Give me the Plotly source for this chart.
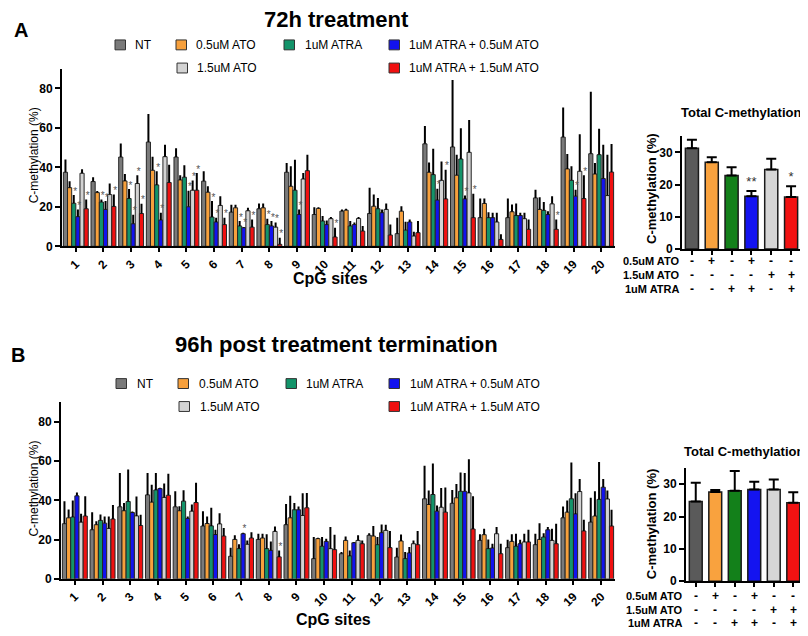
import plotly.graph_objects as go

# The page body has an 8px margin, so the figure is drawn at (8, 8) in the window.
W, H = 800, 628
OFF = 8
FONT = "Liberation Sans, Arial, sans-serif"


def X(px):
    return (px - OFF) / W


def Y(py):
    return 1 - (py - OFF) / H


treatments = ["NT", "0.5uM ATO", "1uM ATRA", "1uM ATRA + 0.5uM ATO",
              "1.5uM ATO", "1uM ATRA + 1.5uM ATO"]
sites = [str(i) for i in range(1, 21)]

# ---------------- Panel A (72h treatment): means and error-bar tops ----------------
a_nt = [37.5, 32.8, 45.2, 52.8, 45.2, 33.0, 17.3, 19.0, 37.5, 16.1, 17.8, 16.6, 6.4, 51.9, 50.3, 14.5, 14.5, 24.5, 55.3, 46.9]
a_nt_up = [44, 35, 52.1, 67, 49.7, 38, 21, 21.7, 42.2, 19.8, 18.7, 29.6, 14.5, 61, 84.2, 24.2, 24.2, 28.7, 70.3, 78.3]
a_ato05 = [29.7, 27.2, 33.1, 38.5, 33.6, 27.4, 19.5, 19.5, 30.4, 19.2, 18.3, 20.3, 17.8, 37.5, 36.0, 21.7, 17.5, 18.7, 39.2, 36.6]
a_ato05_up = [33, 28, 36.6, 45.4, 36, 30.4, 21, 21.7, 40.5, 19.8, 19, 26.2, 20.3, 42.5, 46.4, 24.2, 21.2, 24.9, 46.7, 42.2]
a_atra = [21.8, 22.4, 24.2, 31.1, 35.0, 14.8, 10.3, 11.0, 28.4, 12.8, 10.3, 19.0, 8.2, 36.3, 44.2, 14.5, 15.6, 18.2, 33.4, 46.4]
a_atra_up = [26, 23.7, 29, 38, 41, 22.9, 12.8, 14, 43.9, 15.3, 12.8, 24.5, 12.4, 49.4, 59.8, 17.3, 21.7, 22.5, 40.5, 59.5]
a_combo05 = [15.0, 18.7, 11.4, 13.3, 20.0, 12.3, 9.4, 10.3, 16.1, 11.0, 11.0, 17.0, 12.3, 23.4, 24.0, 14.5, 15.6, 16.1, 25.4, 34.3]
a_combo05_up = [18.7, 22.9, 16, 17, 28.2, 14.5, 9.8, 12.8, 18.7, 13.1, 12, 18.7, 13.6, 29.1, 25.7, 17, 17, 17.8, 28.7, 51.4]
a_ato15 = [37.0, 26.2, 31.8, 45.4, 28.4, 20.7, 18.0, 9.7, 34.1, 14.0, 14.1, 18.7, 5.2, 33.4, 47.6, 12.3, 14.0, 21.5, 38.0, 25.7]
a_ato15_up = [39, 31.8, 36, 51.4, 33.3, 25.4, 19.5, 12, 37.1, 14.8, 14.8, 21.7, 7.4, 43, 64, 17, 17, 25.4, 56.8, 46.4]
a_combo15 = [19.0, 20.2, 16.6, 32.3, 28.4, 11.0, 9.7, 1.0, 38.3, 4.7, 7.7, 5.7, 6.9, 24.0, 14.5, 3.5, 8.6, 8.6, 24.2, 37.6]
a_combo15_up = [23.7, 26.2, 21.5, 41.3, 37.1, 14.5, 13.6, 4.4, 46.4, 9.4, 10.3, 11.1, 12.8, 38.8, 26.6, 6.1, 13.6, 13.6, 36, 51.8]
# significance stars: (CpG site, treatment index)
a_stars = [(1, 2), (1, 3), (1, 5), (2, 2), (2, 3), (2, 5), (3, 2), (3, 3), (3, 4), (3, 5),
           (4, 2), (4, 3), (5, 3), (5, 4), (5, 5), (6, 2), (6, 3), (6, 5), (7, 2), (7, 3),
           (7, 5), (8, 2), (8, 3), (8, 4), (8, 5), (9, 3), (10, 5), (14, 3), (14, 5),
           (15, 3), (15, 5), (18, 5), (19, 3), (19, 5)]

a_total = [31.3, 26.9, 22.8, 16.4, 24.7, 16.1]
a_total_up = [33.9, 28.5, 25.4, 18.0, 28.0, 19.5]
a_total_stars = ["", "", "", "**", "", "*"]

# ---------------- Panel B (96h post treatment termination) ----------------
b_nt = [28.1, 25.0, 36.7, 42.8, 36.7, 26.9, 11.5, 20.1, 27.6, 10.3, 12.8, 22.2, 11.1, 40.8, 38.5, 19.6, 15.9, 17.4, 31.1, 28.9]
b_nt_up = [39.6, 34, 54, 54, 44.7, 34.5, 15.9, 23, 38.2, 21.3, 13.7, 23.3, 15.9, 57.7, 45.3, 22.7, 19.9, 23, 36.9, 41.3]
b_ato05 = [31.1, 27.6, 34.7, 39.1, 34.7, 28.2, 20.1, 20.8, 31.1, 20.5, 19.6, 21.8, 19.3, 37.9, 41.3, 22.5, 19.1, 20.1, 34.0, 32.0]
b_ato05_up = [35.4, 29.3, 38.6, 47.9, 37, 31.8, 22.2, 23, 42.4, 21, 21.6, 26.9, 22.6, 45, 48.4, 25.5, 22.7, 28.4, 39.9, 44.6]
b_atra = [31.5, 29.8, 39.4, 45.3, 39.6, 27.0, 15.4, 15.4, 35.2, 16.6, 11.7, 17.4, 10.3, 43.0, 44.6, 15.4, 16.6, 21.3, 40.8, 40.5]
b_atra_up = [39.9, 32.8, 55.7, 54, 45.2, 36.2, 17.6, 22.7, 38.6, 21.3, 14.5, 21.3, 13.7, 58.8, 54.2, 20.1, 23, 23.3, 59.3, 59.5]
b_combo05 = [42.3, 28.4, 33.8, 46.0, 30.8, 22.6, 23.0, 14.5, 35.2, 19.1, 18.4, 23.5, 13.2, 34.5, 44.6, 15.7, 17.9, 25.0, 33.1, 46.7]
b_combo05_up = [44, 31.8, 34.3, 46.4, 31.8, 25, 23.5, 19.1, 36.9, 20.5, 18.8, 27.7, 16.2, 37.4, 53.9, 17.9, 19.9, 26.4, 43.6, 50.9]
b_ato15 = [28.9, 25.7, 32.1, 41.5, 34.5, 28.0, 17.6, 24.2, 32.3, 15.4, 19.6, 24.7, 17.9, 36.5, 43.8, 23.0, 18.8, 19.6, 44.5, 40.7]
b_ato15_up = [33.2, 31.8, 42, 48.6, 37.9, 33.4, 19.6, 26.7, 43.6, 26.4, 22.2, 27.6, 19.6, 46.3, 61, 26.4, 23, 25.5, 50.9, 45]
b_combo15 = [32.0, 30.5, 27.2, 42.6, 38.9, 21.8, 20.8, 11.2, 36.2, 14.9, 17.9, 15.9, 17.4, 34.0, 25.4, 12.8, 18.8, 17.9, 24.4, 26.9]
b_combo15_up = [42.1, 37.7, 32.7, 53.6, 49, 25.9, 23.8, 14.5, 43.8, 22.5, 19.6, 24.4, 24.4, 46.6, 42.1, 17.9, 25, 28.1, 30.1, 35.2]
b_stars = [(7, 3), (8, 5)]

b_total = [24.7, 27.6, 28.0, 28.4, 28.4, 24.3]
b_total_up = [30.5, 28.2, 34.1, 30.8, 31.5, 27.5]
b_total_stars = ["", "", "", "", "", ""]

# +/- design table
ato05_signs = ["-", "+", "-", "+", "-", "-"]
ato15_signs = ["-", "-", "-", "-", "+", "+"]
atra_signs = ["-", "-", "+", "+", "-", "+"]
table_rows = ["0.5uM ATO", "1.5uM ATO", "1uM ATRA"]

main_colors = ["#7a7a7a", "#f7a03c", "#13946a", "#1212ee", "#d3d3d3", "#f01010"]
total_colors = ["#5a5a5a", "#f9a23e", "#13801a", "#1414f0", "#d6d6d6", "#f21212"]

BW = 0.15  # bar width in category units

fig = go.Figure()


def add_main(means, uppers, stars, xa, ya):
    for j in range(6):
        xs = [i + (j - 2.5) * BW for i in range(len(sites))]
        err = [round(u - m, 2) for u, m in zip(uppers[j], means[j])]
        fig.add_trace(go.Bar(
            x=xs, y=means[j], width=BW, name=treatments[j],
            marker=dict(color=main_colors[j], line=dict(color="#262626", width=1)),
            error_y=dict(type="data", symmetric=False, array=err,
                         arrayminus=[0] * len(err), color="black", thickness=2, width=0),
            xaxis=xa, yaxis=ya, showlegend=False, hoverinfo="skip"))
    sx = [s - 1 + (j - 2.5) * BW + 0.05 for s, j in stars]
    sy = [uppers[j][s - 1] + 1.5 for s, j in stars]
    fig.add_trace(go.Scatter(
        x=sx, y=sy, mode="text", text=["*"] * len(sx),
        textfont=dict(family=FONT, size=10, color="#555555"),
        textposition="middle center", xaxis=xa, yaxis=ya,
        showlegend=False, hoverinfo="skip"))


def add_total(means, uppers, stars, xa, ya):
    err = [round(u - m, 2) for u, m in zip(uppers, means)]
    fig.add_trace(go.Bar(
        x=list(range(6)), y=means, width=0.66,
        marker=dict(color=total_colors, line=dict(color="#1a1a1a", width=1.5)),
        error_y=dict(type="data", symmetric=False, array=err, arrayminus=[0] * 6,
                     color="black", thickness=2, width=5),
        xaxis=xa, yaxis=ya, showlegend=False, hoverinfo="skip"))
    fig.add_trace(go.Scatter(
        x=list(range(6)), y=[u + 2.5 for u in uppers], mode="text", text=stars,
        textfont=dict(family=FONT, size=13, color="#333333"),
        textposition="middle center", xaxis=xa, yaxis=ya,
        showlegend=False, hoverinfo="skip"))


add_main([a_nt, a_ato05, a_atra, a_combo05, a_ato15, a_combo15],
         [a_nt_up, a_ato05_up, a_atra_up, a_combo05_up, a_ato15_up, a_combo15_up],
         a_stars, "x", "y")
add_total(a_total, a_total_up, a_total_stars, "x2", "y2")
add_main([b_nt, b_ato05, b_atra, b_combo05, b_ato15, b_combo15],
         [b_nt_up, b_ato05_up, b_atra_up, b_combo05_up, b_ato15_up, b_combo15_up],
         b_stars, "x3", "y3")
add_total(b_total, b_total_up, b_total_stars, "x4", "y4")

axis_common = dict(showline=True, linewidth=2, linecolor="black", showgrid=False,
                   zeroline=False, ticks="outside", tickwidth=2, tickcolor="black")
tick_bold = dict(family=FONT, size=12, color="black", weight="bold")


def main_x(domain, anchor):
    return dict(axis_common, domain=domain, anchor=anchor, range=[-0.5, 19.5],
                tickvals=list(range(len(sites))), ticktext=sites, tickangle=-45,
                ticklen=4, tickfont=tick_bold)


def main_y(domain, anchor):
    return dict(axis_common, domain=domain, anchor=anchor, range=[0, 90],
                tickvals=[0, 20, 40, 60, 80], ticklen=5, tickfont=tick_bold)


def tot_x(domain, anchor):
    return dict(axis_common, domain=domain, anchor=anchor, range=[-0.5, 5.5],
                tickvals=list(range(6)), showticklabels=False, ticklen=4)


def tot_y(domain, anchor):
    return dict(axis_common, domain=domain, anchor=anchor, range=[0, 35],
                tickvals=[0, 10, 20, 30], ticklen=5, tickfont=tick_bold)


annotations = []
shapes = []


def txt(x, y, s, size, bold=False, xanchor="center", angle=0, color="black"):
    annotations.append(dict(
        x=x, y=y, xref="paper", yref="paper", text=s, showarrow=False,
        xanchor=xanchor, yanchor="middle", textangle=angle,
        font=dict(family=FONT, size=size, color=color, weight="bold" if bold else "normal")))


def legend(sq_x, txt_x, rows_y):
    order = [(0, 0), (0, 1), (0, 2), (0, 3), (1, 4), (1, 5)]
    for k, (r, j) in enumerate(order):
        yc = rows_y[r]
        shapes.append(dict(type="rect", xref="paper", yref="paper",
                           x0=X(sq_x[k]), x1=X(sq_x[k] + 10.5),
                           y0=Y(yc + 5), y1=Y(yc - 5),
                           fillcolor=main_colors[j], line=dict(color="#333333", width=1)))
        txt(X(txt_x[k]), Y(yc), treatments[j], 12, xanchor="left")


def table(xa, rows_y, label_x):
    for r, signs in enumerate([ato05_signs, ato15_signs, atra_signs]):
        txt(X(label_x), Y(rows_y[r]), table_rows[r], 11, bold=True, xanchor="right")
        for c, s in enumerate(signs):
            annotations.append(dict(
                x=c, y=Y(rows_y[r]), xref=xa, yref="paper", text=s, showarrow=False,
                xanchor="center", yanchor="middle",
                font=dict(family=FONT, size=12, color="black", weight="bold")))


# Panel A texts
txt(X(21), Y(30), "A", 20, bold=True)
txt(X(336), Y(20), "72h treatment", 22, bold=True)
legend([115, 176, 284, 389, 177, 389], [133, 194, 303, 407, 195, 407], [45.3, 68.7])
txt(X(34), Y(157), "C-methylation (%)", 12, angle=-90)
txt(X(330), Y(281.5), "CpG sites", 16, bold=True)
txt(X(741), Y(114), "Total C-methylation", 13, bold=True)
txt(X(652), Y(191), "C-methylation (%)", 13, bold=True, angle=-90)
table("x2", [264, 278.3, 292.3], 681)

# Panel B texts
txt(X(18), Y(359), "B", 20, bold=True)
txt(X(336), Y(348), "96h post treatment termination", 22, bold=True)
legend([116, 178, 286, 389, 179, 389], [135, 197, 304, 408, 198, 408], [387.8, 411])
txt(X(34), Y(494), "C-methylation (%)", 12, angle=-90)
txt(X(333), Y(626), "CpG sites", 16, bold=True)
txt(X(744), Y(456.5), "Total C-methylation", 13, bold=True)
txt(X(651), Y(530), "C-methylation (%)", 13, bold=True, angle=-90)
table("x4", [602.3, 616.7, 630], 684)

fig.update_layout(
    width=W, height=H, margin=dict(l=0, r=0, t=0, b=0),
    paper_bgcolor="white", plot_bgcolor="white",
    barmode="overlay", showlegend=False,
    font=dict(family=FONT, color="black"),
    xaxis=main_x([X(62), X(615)], "y"),
    yaxis=main_y([Y(249), Y(69.3)], "x"),
    xaxis2=tot_x([X(682), X(801)], "y2"),
    yaxis2=tot_y([Y(251.7), Y(137.7)], "x2"),
    xaxis3=main_x([X(61), X(615)], "y3"),
    yaxis3=main_y([Y(585.3), Y(406.7)], "x3"),
    xaxis4=tot_x([X(686), X(803)], "y4"),
    yaxis4=tot_y([Y(587.7), Y(473.3)], "x4"),
    annotations=annotations, shapes=shapes,
)

fig.write_html("out.html")
